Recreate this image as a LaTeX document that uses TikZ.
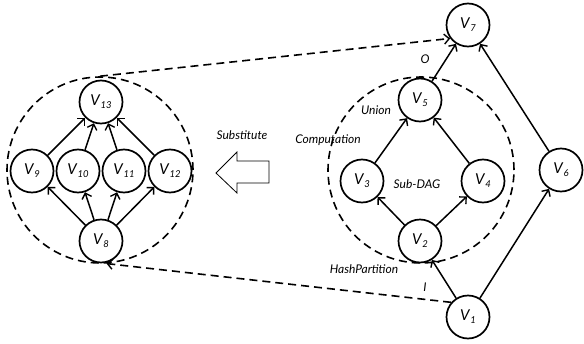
\documentclass[tikz,border=0pt]{standalone}
\usepackage{fontspec}
\setmainfont{Lato}
\usetikzlibrary{arrows.meta}
\newcommand{\vlab}[1]{\textit{V}\kern0.3pt\raisebox{-0.4ex}{\fontsize{9.5}{10}\selectfont\itshape #1}}
\begin{document}
\begin{tikzpicture}[x=1pt,y=-1pt,
  vert/.style={circle,draw,line width=1.7pt,minimum size=43pt,inner sep=0pt,font=\fontsize{15}{17}\selectfont},
  tip/.style={-{Straight Barb[length=5pt,width=10pt,line width=1.4pt]}},
  edge/.style={line width=1.5pt,tip},
  region/.style={circle,draw,line width=1.6pt,dash pattern=on 8pt off 5pt,minimum size=186pt,inner sep=0pt},
  link/.style={line width=1.6pt,dash pattern=on 8pt off 5pt,tip},
  lab/.style={font=\fontsize{12}{14}\selectfont\itshape,inner sep=0pt}]
\useasboundingbox (0,0) rectangle (584,343);
% regions
\node[region] (L) at (100,170) {};
\node[region] (R) at (421,170) {};
% right graph
\node[vert] (v7) at (468,25) {\vlab{7}};
\node[vert] (v5) at (420,100) {\vlab{5}};
\node[vert] (v3) at (362,181) {\vlab{3}};
\node[vert] (v4) at (483,181) {\vlab{4}};
\node[vert] (v6) at (561,170) {\vlab{6}};
\node[vert] (v2) at (420,241) {\vlab{2}};
\node[vert] (v1) at (468,317) {\vlab{1}};
% left graph
\node[vert] (v13) at (101,102) {\vlab{13}};
\node[vert] (v9) at (32,171) {\vlab{9}};
\node[vert] (v10) at (78,171) {\vlab{10}};
\node[vert] (v11) at (124,171) {\vlab{11}};
\node[vert] (v12) at (170,171) {\vlab{12}};
\node[vert] (v8) at (101,241) {\vlab{8}};
% edges right
\draw[edge] (v1) -- (v2);
\draw[edge] (v1) -- (v6);
\draw[edge] (v2) -- (v3);
\draw[edge] (v2) -- (v4);
\draw[edge] (v3) -- (v5);
\draw[edge] (v4) -- (v5);
\draw[edge] (v5) -- (v7);
\draw[edge] (v6) -- (v7);
% edges left
\foreach \t in {v9,v10,v11,v12}{
  \draw[edge] (v8) -- (\t);
  \draw[edge] (\t) -- (v13);
}
% dashed links
\draw[link] (L.north) -- (v7.217);
\draw[link] (v1.139) -- (L.274);
% labels
\node[lab] (lo) at (425,59) {O};
\node[lab] (lu) at (376,110) {Union};
\node[lab] (lc) at (328,140) {Computation};
\node[lab] (ls) at (417,184) {Sub-DAG};
\node[lab] (lh) at (364,269) {HashPartition};
\node[lab] (li) at (425,287) {I};
\node[lab] (lsub) at (242,135) {Substitute};
% hollow arrow
\draw[line width=0.8pt] (216,173) -- (237,152) -- (237,161) -- (269,161) -- (269,183) -- (237,183) -- (237,193) -- cycle;
\end{tikzpicture}
\end{document}
